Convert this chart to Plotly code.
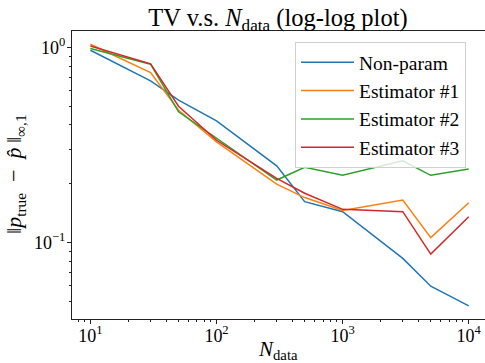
import plotly.graph_objects as go

n_data = [10, 30, 50, 100, 300, 500, 1000, 3000, 5000, 10000]
non_param = [0.965, 0.672, 0.536, 0.420, 0.247, 0.162, 0.144, 0.083, 0.0598, 0.0474]
est1 = [1.036, 0.742, 0.476, 0.328, 0.199, 0.170, 0.146, 0.165, 0.106, 0.160]
est2 = [0.985, 0.819, 0.467, 0.341, 0.209, 0.243, 0.221, 0.262, 0.221, 0.238]
est3 = [1.015, 0.822, 0.499, 0.334, 0.213, 0.179, 0.148, 0.144, 0.0873, 0.1355]

series_names = ["Non-param", "Estimator #1", "Estimator #2", "Estimator #3"]
series_vals = [non_param, est1, est2, est3]
colors = ["#1f77b4", "#ff7f0e", "#2ca02c", "#d62728"]

x_major = [10, 100, 1000, 10000]
x_major_text = ["10<sup>1</sup>", "10<sup>2</sup>", "10<sup>3</sup>", "10<sup>4</sup>"]
y_major = [0.1, 1]
y_major_text = ["10<sup>−1</sup>", "10<sup>0</sup>"]

x_minor = [m * 10 ** e for e in range(0, 4) for m in range(2, 10)]
y_minor = [m * 10 ** e for e in (-2, -1) for m in range(2, 10)]

FONT = "'Liberation Serif', 'DejaVu Serif', serif"

W, H = 485, 363
L, R, T, B = 72, 0, 31, 44

fig = go.Figure()
for name, vals, c in zip(series_names, series_vals, colors):
    fig.add_trace(go.Scatter(x=n_data, y=vals, mode="lines", name=name,
                             line=dict(color=c, width=1.5)))

axis_common = dict(
    type="log", tickmode="array",
    ticks="outside", ticklen=4, tickwidth=1, tickcolor="#222",
    showline=True, linecolor="#222", linewidth=1,
    showgrid=False, zeroline=False, automargin=False,
    tickfont=dict(family=FONT, size=18),
)

fig.update_layout(
    width=W, height=H,
    margin=dict(l=L, r=R, t=T, b=B, autoexpand=False),
    plot_bgcolor="white", paper_bgcolor="white",
    font=dict(family=FONT, size=16, color="black"),
    title=dict(text="TV v.s. <i>N</i><sub>data</sub> (log-log plot)",
               x=278 / W, xanchor="center", y=1 - 17 / H, yanchor="middle",
               font=dict(family=FONT, size=24.5)),
    showlegend=True,
    legend=dict(x=(295 - L) / (W - L), y=(H - B - 42) / (H - T - B),
                xanchor="left", yanchor="top", itemwidth=53,
                bgcolor="rgba(255,255,255,0.8)", bordercolor="#d0d0d0", borderwidth=1,
                font=dict(family=FONT, size=19.5)),
    xaxis=dict(axis_common, range=[0.854, 4.129],
               tickvals=x_major, ticktext=x_major_text, mirror=True,
               ticklabelstandoff=-4,
               minor=dict(tickmode="array", tickvals=x_minor, ticks="outside",
                          ticklen=2, tickwidth=0.8, tickcolor="#222", showgrid=False)),
    yaxis=dict(axis_common, range=[-1.391, 0.083],
               tickvals=y_major, ticktext=y_major_text, mirror=False,
               ticklabelstandoff=-2,
               minor=dict(tickmode="array", tickvals=y_minor, ticks="outside",
                          ticklen=2, tickwidth=0.8, tickcolor="#222", showgrid=False)),
    annotations=[
        dict(text="<i>N</i><sub>data</sub>", x=278 / W, y=1 - 350 / H,
             xref="paper", yref="paper", xanchor="center", yanchor="middle",
             showarrow=False, font=dict(family=FONT, size=21)),
        dict(text="‖<i>p</i><sub>true</sub>\u2002−\u2002<i>p̂</i>\u2009‖<sub>∞,1</sub>",
             x=15 / W, y=1 - 174 / H, xref="paper", yref="paper",
             xanchor="center", yanchor="middle", textangle=-90,
             showarrow=False, font=dict(family=FONT, size=22)),
    ],
)
for a in fig.layout.annotations:
    px = a.x * W
    py = (1 - a.y) * H
    a.x = (px - L) / (W - L - R)
    a.y = (H - B - py) / (H - T - B)

fig.write_html("out.html", config={"displayModeBar": False},
               post_script="document.body.style.margin='0';")
